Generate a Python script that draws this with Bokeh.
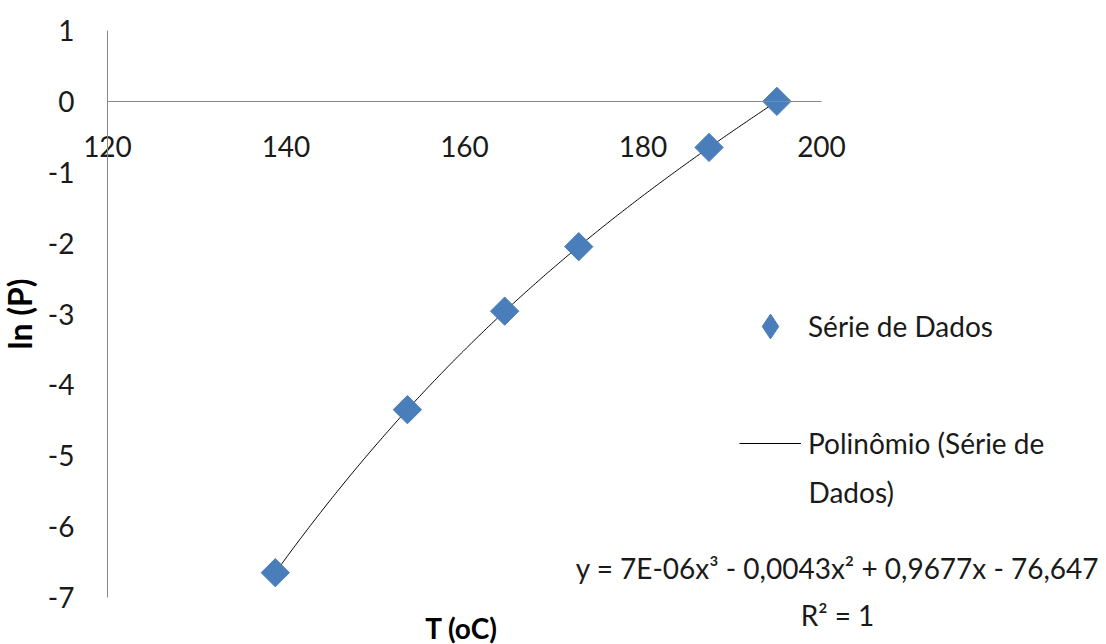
import numpy as np
from bokeh.plotting import figure
from bokeh.models import (LinearAxis, FixedTicker, Legend, LegendItem, Label,
                          PrintfTickFormatter)
from bokeh.embed import file_html
from bokeh.resources import INLINE

# Measurements: temperature (°C) against ln of pressure
temperature = [138.8, 153.6, 164.5, 172.8, 187.4, 195.0]
ln_p = [-6.65, -4.35, -2.96, -2.05, -0.65, 0.0]

x_ticks = [120, 140, 160, 180, 200]
y_ticks = [-7, -6, -5, -4, -3, -2, -1, 0, 1]

x_title = "T (oC)"
y_title = "ln (P)"
series_label = "Série de Dados"
trend_label_lines = ["Polinômio (Série de", "Dados)"]
equation_text = "y = 7E-06x³ - 0,0043x² + 0,9677x - 76,647"
r2_text = "R² = 1"

FONT = "Lato"
TEXT_SIZE = "28px"
AXIS_GREY = "#888888"
TEXT_COLOR = "#1a1a1a"
MARKER_BLUE = "#4A7EBB"

W, H = 1106, 644
# plotting area: T from 120 to 200 and ln(P) from -7 to 1, with the
# surrounding page margin expressed in the same units
PX_PER_T = 8.925
PX_PER_LNP = 70.9
x_lo = 120 - 107 / PX_PER_T
x_hi = 200 + (W - 821) / PX_PER_T
y_hi = 1 + 30 / PX_PER_LNP
y_lo = -7 - 47 / PX_PER_LNP

p = figure(
    width=W, height=H,
    x_range=(x_lo, x_hi), y_range=(y_lo, y_hi),
    output_backend="svg", toolbar_location=None,
    x_axis_location=None, y_axis_location=None,
    min_border=0,
)
p.grid.visible = False
p.outline_line_color = None
p.background_fill_color = "white"
p.border_fill_color = "white"


def style_axis(ax):
    ax.axis_line_color = AXIS_GREY
    ax.axis_line_width = 1
    ax.major_tick_in = 0
    ax.major_tick_out = 0
    ax.minor_tick_in = 0
    ax.minor_tick_out = 0
    ax.formatter = PrintfTickFormatter(format="%d")
    ax.major_label_text_font = FONT
    ax.major_label_text_font_size = TEXT_SIZE
    ax.major_label_text_color = TEXT_COLOR
    ax.axis_label_text_font = FONT
    ax.axis_label_text_font_style = "bold"
    ax.axis_label_text_color = "black"


# vertical axis at T = 120
yaxis = LinearAxis(ticker=FixedTicker(ticks=y_ticks), fixed_location=120,
                   bounds=(-7, 1), axis_label=y_title)
style_axis(yaxis)
yaxis.major_label_standoff = 33
yaxis.axis_label_text_font_size = "32px"
yaxis.axis_label_standoff = 6
p.add_layout(yaxis, "left")

# horizontal axis crossing at ln(P) = 0
xaxis = LinearAxis(ticker=FixedTicker(ticks=x_ticks), fixed_location=0,
                   bounds=(120, 200))
style_axis(xaxis)
xaxis.major_label_standoff = 35
p.add_layout(xaxis, "below")

p.add_layout(Label(x=461, y=17, x_units="screen", y_units="screen", text=x_title,
                   text_align="center", text_baseline="middle", text_font=FONT,
                   text_font_size="28px", text_font_style="bold", text_color="black"))

# third-order polynomial trend through the measurements
coeffs = np.polyfit(temperature, ln_p, 3)
t_fit = np.linspace(min(temperature), max(temperature), 300)
trend = p.line(t_fit, np.polyval(coeffs, t_fit), line_color="black", line_width=1)

points = p.scatter(temperature, ln_p, marker="square", angle=np.pi / 4, size=20,
                   fill_color=MARKER_BLUE, line_color=MARKER_BLUE)

# legend key for the data series: an upright diamond with no point of its own
series_key = p.scatter(x=[np.nan], y=[np.nan], marker="diamond",
                       fill_color=MARKER_BLUE, line_color=MARKER_BLUE)


def make_legend(item, loc, glyph_h):
    lg = Legend(items=[item], location=loc)
    lg.border_line_color = None
    lg.background_fill_alpha = 0
    lg.padding = 0
    lg.margin = 0
    lg.spacing = 0
    lg.glyph_width = 62
    lg.glyph_height = glyph_h
    lg.label_height = 30
    lg.label_standoff = 7
    lg.label_text_font = FONT
    lg.label_text_font_size = TEXT_SIZE
    lg.label_text_color = TEXT_COLOR
    return lg


p.add_layout(make_legend(LegendItem(label=series_label, renderers=[series_key]),
                         (739, 287), 62), "center")
p.add_layout(make_legend(LegendItem(label=trend_label_lines[0], renderers=[trend]),
                         (739, 183), 36), "center")
p.add_layout(Label(x=808, y=153, x_units="screen", y_units="screen",
                   text=trend_label_lines[1], text_align="left", text_baseline="middle",
                   text_font=FONT, text_font_size=TEXT_SIZE, text_color=TEXT_COLOR))

p.add_layout(Label(x=837, y=77, x_units="screen", y_units="screen", text=equation_text,
                   text_align="center", text_baseline="middle", text_font=FONT,
                   text_font_size=TEXT_SIZE, text_color=TEXT_COLOR))
p.add_layout(Label(x=837, y=30, x_units="screen", y_units="screen", text=r2_text,
                   text_align="center", text_baseline="middle", text_font=FONT,
                   text_font_size=TEXT_SIZE, text_color=TEXT_COLOR))

open("out.html", "w").write(file_html(p, INLINE))
